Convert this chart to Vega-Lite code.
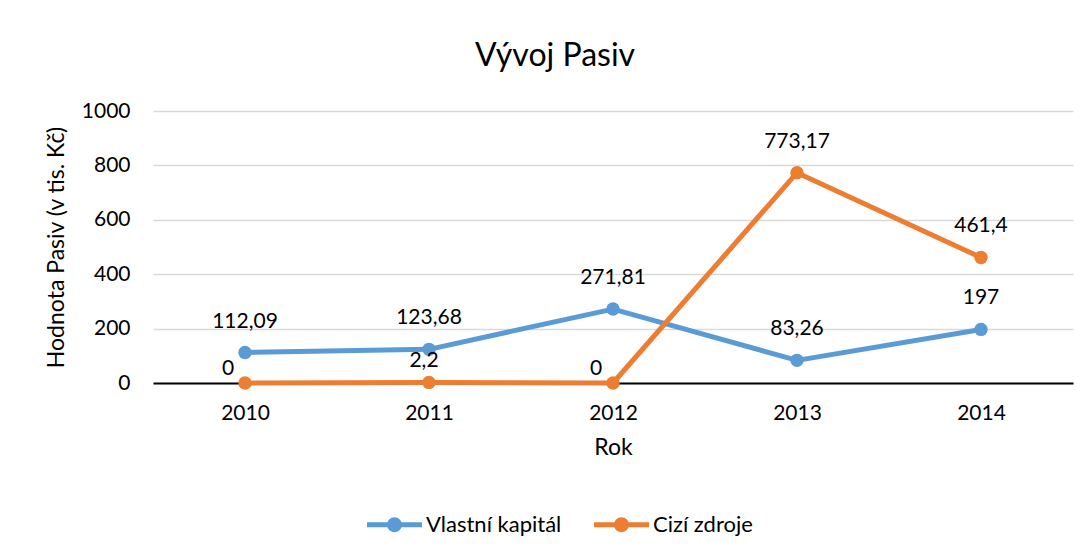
{
  "$schema": "https://vega.github.io/schema/vega-lite/v6.json",
  "autosize": "none",
  "width": 920,
  "height": 272,
  "padding": {"left": 153, "top": 111, "right": 16, "bottom": 177},
  "background": "#ffffff",
  "title": {"text": "Vývoj Pasiv", "font": "Lato", "fontSize": 32, "fontWeight": "normal", "color": "#000000", "anchor": "middle", "dx": -58, "offset": 27},
  "config": {
    "locale": {"number": {"decimal": ",", "thousands": " ", "grouping": [3], "currency": ["", " Kč"]}},
    "view": {"stroke": null},
    "font": "Lato",
    "legend": {"title": null, "orient": "none", "legendX": 214, "legendY": 386, "direction": "horizontal",
      "symbolType": "M-1,-0.09 L1,-0.09 L1,0.09 L-1,0.09 Z M-0.27,0 A0.27,0.27 0 1,1 0.27,0 A0.27,0.27 0 1,1 -0.27,0 Z",
      "symbolSize": 3025, "symbolStrokeWidth": 0, "symbolOpacity": 1,
      "labelFont": "Lato", "labelFontSize": 22, "labelColor": "#000000", "labelOffset": 4, "columnPadding": 32}
  },
  "data": {"values": [
    {"rok": "2010", "serie": "Vlastní kapitál", "value": 112.09},
    {"rok": "2011", "serie": "Vlastní kapitál", "value": 123.68},
    {"rok": "2012", "serie": "Vlastní kapitál", "value": 271.81},
    {"rok": "2013", "serie": "Vlastní kapitál", "value": 83.26},
    {"rok": "2014", "serie": "Vlastní kapitál", "value": 197},
    {"rok": "2010", "serie": "Cizí zdroje", "value": 0},
    {"rok": "2011", "serie": "Cizí zdroje", "value": 2.2},
    {"rok": "2012", "serie": "Cizí zdroje", "value": 0},
    {"rok": "2013", "serie": "Cizí zdroje", "value": 773.17},
    {"rok": "2014", "serie": "Cizí zdroje", "value": 461.4}
  ]},
  "encoding": {
    "x": {"field": "rok", "type": "ordinal", "scale": {"type": "point", "padding": 0.5},
      "axis": {"title": "Rok", "labelAngle": 0, "labelFont": "Lato", "labelFontSize": 21, "labelColor": "#000000", "labelPadding": 19, "ticks": false, "domainColor": "#000000", "domainWidth": 2, "grid": false, "titleFont": "Lato", "titleFontSize": 23, "titleFontWeight": "normal", "titleColor": "#000000", "titlePadding": 13}},
    "y": {"field": "value", "type": "quantitative", "scale": {"domain": [0, 1000], "nice": false},
      "axis": {"title": "Hodnota Pasiv (v tis. Kč)", "values": [0, 200, 400, 600, 800, 1000], "format": "d", "labelFont": "Lato", "labelFontSize": 21, "labelColor": "#000000", "labelPadding": 23, "ticks": false, "domain": false, "gridColor": "#D9D9D9", "gridWidth": 1.5, "titleFont": "Lato", "titleFontSize": 23, "titleFontWeight": "normal", "titleColor": "#000000", "titlePadding": 13}},
    "color": {"field": "serie", "type": "nominal", "scale": {"domain": ["Vlastní kapitál", "Cizí zdroje"], "range": ["#5B9BD5", "#ED7D31"]},
      "legend": {"encode": {"symbols": {"update": {"fill": {"scale": "color", "field": "value"}, "fillOpacity": {"value": 1}, "strokeWidth": {"value": 0}}}}}}
  },
  "layer": [
    {
      "mark": {"type": "line", "strokeWidth": 5, "strokeCap": "round", "strokeJoin": "round"},
      "encoding": {"order": {"field": "rok"}}
    },
    {
      "mark": {"type": "point", "filled": true, "size": 180, "opacity": 1}
    },
    {
      "transform": [{"filter": "datum.value > 50"}],
      "mark": {"type": "text", "font": "Lato", "fontSize": 21, "color": "#000000", "dy": -25, "baseline": "alphabetic"},
      "encoding": {"text": {"field": "value", "type": "quantitative", "format": "~f"}, "color": {"value": "#000000"}}
    },
    {
      "transform": [{"filter": "datum.value == 0"}],
      "mark": {"type": "text", "font": "Lato", "fontSize": 21, "color": "#000000", "dx": -17, "dy": -8, "baseline": "alphabetic"},
      "encoding": {"text": {"field": "value", "type": "quantitative", "format": "~f"}, "color": {"value": "#000000"}}
    },
    {
      "transform": [{"filter": "datum.value > 0 && datum.value <= 50"}],
      "mark": {"type": "text", "font": "Lato", "fontSize": 21, "color": "#000000", "dx": -5, "dy": -15, "baseline": "alphabetic"},
      "encoding": {"text": {"field": "value", "type": "quantitative", "format": "~f"}, "color": {"value": "#000000"}}
    }
  ]
}
